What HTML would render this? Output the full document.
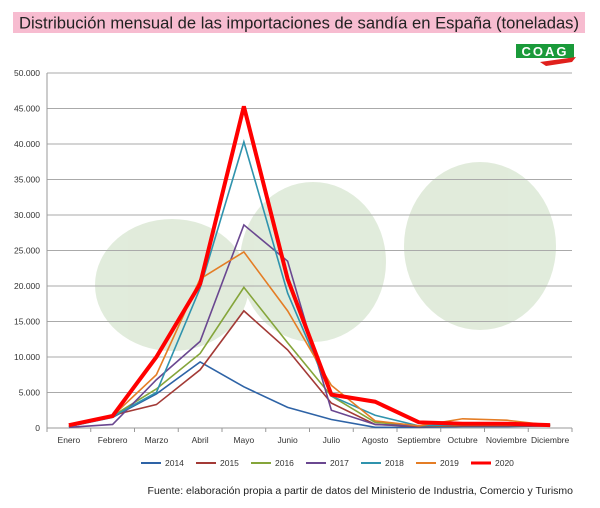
<!DOCTYPE html>
<html><head><meta charset="utf-8"><style>
body{margin:0;background:#fff;}
svg{display:block;font-family:"Liberation Sans",sans-serif;}
</style></head><body>
<svg id="chart" width="600" height="508" viewBox="0 0 600 508">
<rect x="13" y="12" width="572" height="21" fill="#f7bcd0"/>
<text x="19" y="28.5" font-size="17" fill="#222" textLength="560" lengthAdjust="spacingAndGlyphs">Distribución mensual de las importaciones de sandía en España (toneladas)</text>
<g>
<rect x="516" y="44" width="58" height="14" fill="#1a9a3a"/>
<text x="545" y="56" font-size="13" font-weight="bold" fill="#fff" text-anchor="middle" letter-spacing="2">COAG</text>
<path d="M540 62 L576 57 L572 62 L546 66 Z" fill="#e0201c"/>
</g>
<g opacity="0.55">
<ellipse cx="172" cy="285" rx="77" ry="66" fill="#c9dcbf"/>
<ellipse cx="313" cy="262" rx="73" ry="80" fill="#c9dcbf"/>
<ellipse cx="480" cy="246" rx="76" ry="84" fill="#c9dcbf"/>
</g>
<g id="grid"></g>
<g id="series"></g>
<g id="legend"></g>
<text x="573" y="494" font-size="10.5" fill="#222" text-anchor="end">Fuente: elaboración propia a partir de datos del Ministerio de Industria, Comercio y Turismo</text>
</svg>
<script>
const months=["Enero","Febrero","Marzo","Abril","Mayo","Junio","Julio","Agosto","Septiembre","Octubre","Noviembre","Diciembre"];
const yTicks=[0,5000,10000,15000,20000,25000,30000,35000,40000,45000,50000];
const years=["2014","2015","2016","2017","2018","2019","2020"];
const colors=["#2e63a6","#a33a36","#85a53a","#6a4790","#2f93ad","#e47d25","#ff0000"];
const s2014=[200,1500,4800,9300,5800,2900,1200,100,100,200,200,300];
const s2015=[200,1800,3300,8200,16500,11000,3500,500,200,300,300,300];
const s2016=[200,1700,5500,10500,19800,12000,4500,800,300,400,400,300];
const s2017=[100,500,6800,12200,28600,23500,2500,500,300,500,500,400];
const s2018=[200,1600,5000,19700,40300,19000,4500,1800,300,500,500,500];
const s2019=[300,1700,7500,21000,24800,16500,6000,1000,300,1300,1100,400];
const s2020=[400,1700,10000,20300,45300,21000,4700,3700,800,600,600,400];
const series=[s2014,s2015,s2016,s2017,s2018,s2019,s2020];
const NS="http://www.w3.org/2000/svg";
const X0=47,X1=572,Y0=428,Y1=73;
const cw=(X1-X0)/months.length;
const xs=i=>X0+cw*(i+0.5);
const ys=v=>Y0-(v/50000)*(Y0-Y1);
function mk(t,a,p){const e=document.createElementNS(NS,t);for(const k in a)e.setAttribute(k,a[k]);p.appendChild(e);return e;}
const grid=document.getElementById('grid');
yTicks.forEach(v=>{
 const l=mk('line',{x1:X0,x2:X1,y1:ys(v),y2:ys(v),stroke:v===0?'#999':'#aaa','stroke-width':1},grid);
 
 
 const t=mk('text',{x:X0-7,y:ys(v)+3,'font-size':8.5,'text-anchor':'end',fill:'#333'},grid);
 t.textContent=v.toLocaleString('de-DE');
 
 
});
const ax=mk('line',{x1:X0,x2:X0,y1:Y1,y2:Y0,stroke:'#999'},grid);


months.forEach((m,i)=>{
 mk('line',{x1:X0+cw*i,x2:X0+cw*i,y1:Y0,y2:Y0+4,stroke:'#999'},grid);
 const t=mk('text',{x:xs(i),y:Y0+15,'font-size':8.5,'text-anchor':'middle',fill:'#333'},grid);
 t.textContent=m;
 
 
});
mk('line',{x1:X1,x2:X1,y1:Y0,y2:Y0+4,stroke:'#999'},grid);
const sg=document.getElementById('series');
series.forEach((s,k)=>{
 const p=mk('polyline',{points:s.map((v,i)=>xs(i)+','+ys(v)).join(' '),fill:'none',stroke:colors[k],'stroke-width':k===6?4:1.6,'stroke-linejoin':'miter'},sg);
 
 
});
const lg=document.getElementById('legend');
years.forEach((y,k)=>{
 const x=141+k*55;
 const l=mk('line',{x1:x,x2:x+20,y1:463,y2:463,stroke:colors[k],'stroke-width':k===6?3:2},lg);
 
 
 const t=mk('text',{x:x+24,y:466,'font-size':8.5,fill:'#333'},lg);
 t.textContent=y;
 
 
});
</script>
</body></html>
